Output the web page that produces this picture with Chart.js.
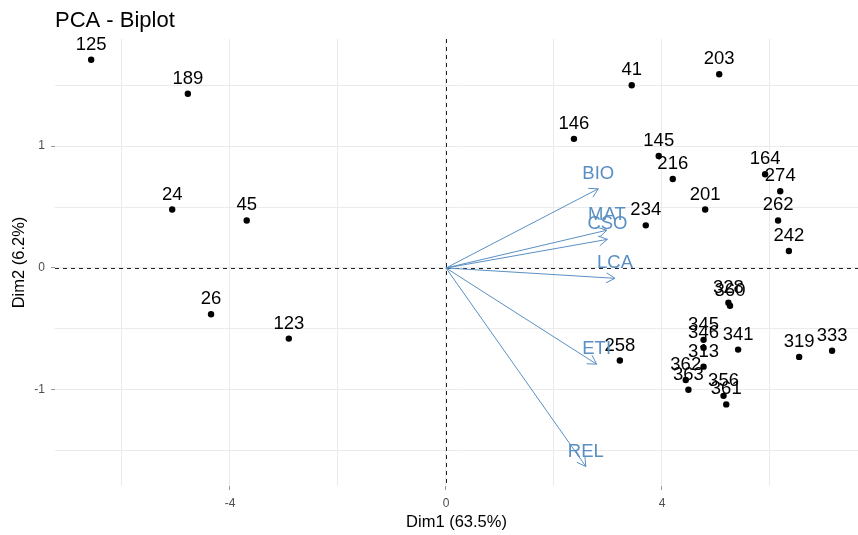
<!DOCTYPE html>
<html>
<head>
<meta charset="utf-8">
<script src="https://cdn.jsdelivr.net/npm/chart.js@4.4.0/dist/chart.umd.min.js"></script>
<style>
  html, body { margin: 0; padding: 0; background: #ffffff; }
  #wrap { width: 858px; height: 535px; position: relative; }
</style>
</head>
<body>
<div id="wrap"><canvas id="biplot"></canvas></div>
<script>
// Individuals: coordinates on the first two principal components
const individuals = ['125','189','24','45','26','123','41','203','146','145','216','164','274','201','262','234','242','258','328','360','345','346','341','313','362','363','356','361','319','333'];
const dim1 = [-6.57,-4.78,-5.07,-3.69,-4.35,-2.91,3.44,5.06,2.37,3.94,4.20,5.91,6.19,4.80,6.15,3.70,6.35,3.22,5.23,5.26,4.77,4.77,5.41,4.77,4.44,4.49,5.14,5.19,6.54,7.15];
const dim2 = [1.71,1.43,0.48,0.39,-0.38,-0.58,1.50,1.59,1.06,0.92,0.73,0.77,0.63,0.48,0.39,0.35,0.14,-0.76,-0.285,-0.31,-0.59,-0.655,-0.67,-0.81,-0.92,-1.00,-1.05,-1.12,-0.73,-0.68];

// Variables: loading arrows (scaled to the individuals' space)
const variables = ['BIO','MAT','CSO','LCA','ETI','REL'];
const varDim1 = [2.82, 2.98, 2.99, 3.13, 2.79, 2.59];
const varDim2 = [0.65, 0.31, 0.235, -0.085, -0.79, -1.63];

// Axis grid positions and the ones that carry a label
const xTicks = [-6, -4, -2, 0, 2, 4, 6];
const xLabelled = [-4, 0, 4];
const yTicks = [-1.5, -1, -0.5, 0, 0.5, 1, 1.5];
const yLabelled = [-1, 0, 1];

const FONT = '"Liberation Sans", Arial, sans-serif';
const VAR_COLOR = '#5A8FC3';

const biplotDecor = {
  id: 'biplotDecor',
  beforeDatasetsDraw(chart) {
    const { ctx, chartArea: a, scales: { x, y } } = chart;
    const x0 = x.getPixelForValue(0), y0 = y.getPixelForValue(0);
    ctx.save();
    ctx.strokeStyle = '#222';
    ctx.lineWidth = 1;
    ctx.setLineDash([4, 4]);
    ctx.beginPath();
    ctx.moveTo(Math.round(x0) + 0.5, a.top);
    ctx.lineTo(Math.round(x0) + 0.5, a.bottom);
    ctx.moveTo(a.left, Math.round(y0) + 0.5);
    ctx.lineTo(a.right, Math.round(y0) + 0.5);
    ctx.stroke();
    ctx.restore();
  },
  afterDatasetsDraw(chart) {
    const { ctx, scales: { x, y } } = chart;
    ctx.save();
    // individual labels
    ctx.font = '18.5px ' + FONT;
    ctx.fillStyle = '#000';
    ctx.textAlign = 'center';
    ctx.textBaseline = 'alphabetic';
    chart.getDatasetMeta(0).data.forEach((pt, i) => {
      ctx.fillText(individuals[i], pt.x, pt.y - 10);
    });
    // variable arrows
    const ox = x.getPixelForValue(0), oy = y.getPixelForValue(0);
    ctx.strokeStyle = VAR_COLOR;
    ctx.fillStyle = VAR_COLOR;
    ctx.lineWidth = 1;
    variables.forEach((name, i) => {
      const tx = x.getPixelForValue(varDim1[i]);
      const ty = y.getPixelForValue(varDim2[i]);
      const ang = Math.atan2(ty - oy, tx - ox);
      const head = 10, spread = Math.PI / 6;
      ctx.beginPath();
      ctx.moveTo(ox, oy);
      ctx.lineTo(tx, ty);
      ctx.moveTo(tx - head * Math.cos(ang - spread), ty - head * Math.sin(ang - spread));
      ctx.lineTo(tx, ty);
      ctx.lineTo(tx - head * Math.cos(ang + spread), ty - head * Math.sin(ang + spread));
      ctx.stroke();
      ctx.fillText(name, tx, ty - 10);
    });
    // title
    ctx.font = '22px ' + FONT;
    ctx.fillStyle = '#000';
    ctx.textAlign = 'left';
    ctx.fillText('PCA - Biplot', 55, 27);
    ctx.restore();
  }
};

const gridColor = '#EBEBEB';

new Chart(document.getElementById('biplot'), {
  type: 'scatter',
  data: {
    datasets: [{
      data: dim1.map((v, i) => ({ x: v, y: dim2[i] })),
      backgroundColor: '#000',
      borderColor: '#000',
      pointRadius: 3.2,
      pointHoverRadius: 3.2,
      borderWidth: 0
    }]
  },
  options: {
    responsive: true,
    maintainAspectRatio: false,
    animation: false,
    events: [],
    layout: { autoPadding: false, padding: { top: 39, right: 0, left: 0, bottom: 0 } },
    plugins: { legend: { display: false }, tooltip: { enabled: false }, title: { display: false } },
    scales: {
      x: {
        type: 'linear',
        min: -7.24,
        max: 7.63,
        afterBuildTicks: s => { s.ticks = xTicks.map(v => ({ value: v })); },
        afterFit: s => { s.height = 49; },
        ticks: {
          autoSkip: false,
          maxRotation: 0,
          padding: 6,
          color: '#4D4D4D',
          font: { family: FONT, size: 12 },
          callback: v => xLabelled.includes(v) ? String(v) : ''
        },
        grid: {
          color: gridColor,
          lineWidth: 1,
          tickLength: 4,
          tickColor: c => (c.tick && xLabelled.includes(c.tick.value)) ? '#999' : 'rgba(0,0,0,0)'
        },
        border: { display: false },
        title: {
          display: true,
          text: 'Dim1 (63.5%)',
          color: '#000',
          font: { family: FONT, size: 16.5 },
          padding: { top: 0, bottom: 3 }
        }
      },
      y: {
        type: 'linear',
        min: -1.79,
        max: 1.88,
        afterBuildTicks: s => { s.ticks = yTicks.map(v => ({ value: v })); },
        afterFit: s => { s.width = 55; },
        ticks: {
          autoSkip: false,
          padding: 6,
          color: '#4D4D4D',
          font: { family: FONT, size: 12 },
          callback: v => yLabelled.includes(v) ? String(v) : ''
        },
        grid: {
          color: gridColor,
          lineWidth: 1,
          tickLength: 4,
          tickColor: c => (c.tick && yLabelled.includes(c.tick.value)) ? '#999' : 'rgba(0,0,0,0)'
        },
        border: { display: false },
        title: {
          display: true,
          text: 'Dim2 (6.2%)',
          color: '#000',
          font: { family: FONT, size: 16.5 },
          padding: { top: 10, bottom: 0 }
        }
      }
    }
  },
  plugins: [biplotDecor]
});
</script>
</body>
</html>
